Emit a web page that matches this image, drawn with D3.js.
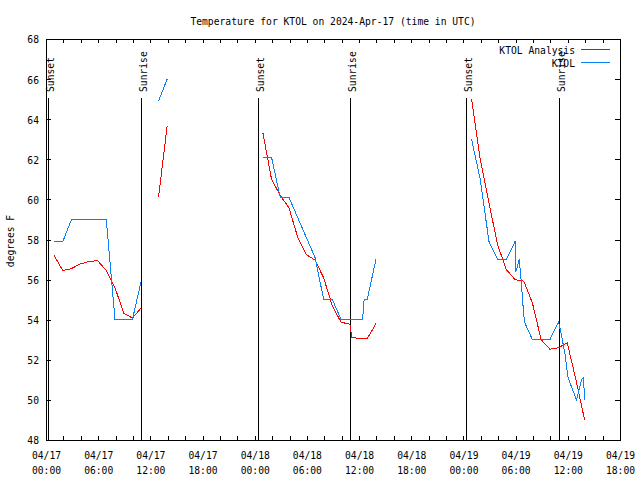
<!DOCTYPE html>
<html><head><meta charset="utf-8">
<script src="https://cdn.jsdelivr.net/npm/d3@7"></script>
<style>
html,body{margin:0;padding:0;background:#fff;}
svg{display:block;}
text{font-family:"DejaVu Sans Mono",monospace;font-size:11px;fill:#000;}
</style></head><body>
<svg id="chart" width="640" height="480"></svg>
<script>
const chartTitle = "Temperature for KTOL on 2024-Apr-17 (time in UTC)";
const yAxisLabel = "degrees F";
const seriesNames = ["KTOL Analysis", "KTOL"];

const analysisTimes = [
 "2024-04-17T00:56Z","2024-04-17T01:56Z","2024-04-17T02:56Z","2024-04-17T03:56Z","2024-04-17T04:56Z",
 "2024-04-17T05:56Z","2024-04-17T06:56Z","2024-04-17T07:56Z","2024-04-17T08:56Z","2024-04-17T09:56Z",
 "2024-04-17T10:56Z","2024-04-17T11:56Z","2024-04-17T12:56Z","2024-04-17T13:56Z","2024-04-17T18:00Z",
 "2024-04-18T00:56Z","2024-04-18T01:56Z","2024-04-18T02:56Z","2024-04-18T03:56Z","2024-04-18T04:56Z",
 "2024-04-18T05:56Z","2024-04-18T06:56Z","2024-04-18T07:56Z","2024-04-18T08:56Z","2024-04-18T09:56Z",
 "2024-04-18T10:56Z","2024-04-18T11:11Z","2024-04-18T11:56Z","2024-04-18T12:56Z","2024-04-18T13:56Z",
 "2024-04-18T18:00Z",
 "2024-04-19T00:56Z","2024-04-19T01:56Z","2024-04-19T02:56Z","2024-04-19T03:56Z","2024-04-19T04:56Z",
 "2024-04-19T05:56Z","2024-04-19T06:56Z","2024-04-19T07:56Z","2024-04-19T08:56Z","2024-04-19T09:56Z",
 "2024-04-19T10:56Z","2024-04-19T11:56Z","2024-04-19T12:56Z","2024-04-19T13:56Z"
];
const analysisValues = [
 57.2,56.45,56.55,56.78,56.9,
 56.95,56.45,55.6,54.33,54.08,
 54.58,null,60.1,63.67,null,
 63.33,61.0,60.2,59.58,58.13,
 57.25,56.97,56.08,54.67,53.87,
 53.78,53.1,53.08,53.05,53.8,
 null,
 65.0,62.0,59.83,57.72,56.5,
 56.0,55.92,54.83,53.0,52.53,
 52.6,52.85,51.0,49.0
];

const obsTimes = [
 "2024-04-17T00:56Z","2024-04-17T01:56Z","2024-04-17T02:56Z","2024-04-17T03:56Z","2024-04-17T04:56Z",
 "2024-04-17T05:56Z","2024-04-17T06:56Z","2024-04-17T07:56Z","2024-04-17T08:56Z","2024-04-17T09:56Z",
 "2024-04-17T10:56Z","2024-04-17T11:56Z","2024-04-17T12:56Z","2024-04-17T13:56Z","2024-04-17T18:00Z",
 "2024-04-18T00:56Z","2024-04-18T01:56Z","2024-04-18T02:56Z","2024-04-18T03:56Z","2024-04-18T04:56Z",
 "2024-04-18T05:56Z","2024-04-18T06:56Z","2024-04-18T07:56Z","2024-04-18T08:56Z","2024-04-18T09:56Z",
 "2024-04-18T10:56Z","2024-04-18T11:56Z","2024-04-18T12:24Z","2024-04-18T12:35Z","2024-04-18T12:56Z",
 "2024-04-18T13:56Z","2024-04-18T18:00Z",
 "2024-04-19T00:56Z","2024-04-19T01:56Z","2024-04-19T02:56Z","2024-04-19T03:56Z","2024-04-19T04:56Z",
 "2024-04-19T05:56Z","2024-04-19T06:02Z","2024-04-19T06:25Z","2024-04-19T06:41Z","2024-04-19T06:56Z",
 "2024-04-19T07:06Z","2024-04-19T07:56Z","2024-04-19T08:56Z","2024-04-19T09:56Z","2024-04-19T10:56Z",
 "2024-04-19T11:17Z","2024-04-19T11:40Z","2024-04-19T12:02Z","2024-04-19T13:00Z","2024-04-19T13:35Z",
 "2024-04-19T13:46Z","2024-04-19T13:58Z"
];
const obsValues = [
 57.9,57.9,59.0,59.0,59.0,
 59.0,59.0,54.0,54.0,54.0,
 55.9,null,64.9,66.0,null,
 62.1,62.1,60.1,60.1,59.1,
 58.1,57.1,55.0,55.0,54.0,
 54.0,54.0,54.0,55.0,55.0,
 57.0,null,
 63.0,61.0,57.9,57.0,57.0,
 57.9,56.4,57.0,55.7,54.2,
 53.8,53.0,53.0,53.0,53.9,
 53.2,52.3,51.1,50.0,51.0,
 51.1,50.0
];

const sunEventTimes = ["2024-04-17T00:13Z","2024-04-17T10:56Z","2024-04-18T00:22Z","2024-04-18T10:57Z","2024-04-19T00:18Z","2024-04-19T10:59Z"];
const sunEventLabels = ["Sunset","Sunrise","Sunset","Sunrise","Sunset","Sunrise"];

const xTickDateLabels = ["04/17","04/17","04/17","04/17","04/18","04/18","04/18","04/18","04/19","04/19","04/19","04/19"];
const xTickTimeLabels = ["00:00","06:00","12:00","18:00","00:00","06:00","12:00","18:00","00:00","06:00","12:00","18:00"];
const yTickValues = [48,50,52,54,56,58,60,62,64,66,68];

const colorAnalysis = "#ff0000";
const colorObs = "#0a80f5";
const CW = 5.82; // per-char width of the reference font

const svg = d3.select("#chart");
const L = 46, R = 620, T = 39, B = 440;
const t0 = new Date("2024-04-17T00:00Z"), t1 = new Date("2024-04-19T18:00Z");
const x = d3.scaleUtc().domain([t0, t1]).range([L, R]);
const y = d3.scaleLinear().domain([48, 68]).range([B, T]);

function fitText(sel) {
  sel.each(function(){ const s = this.textContent; d3.select(this).attr("textLength", s.length*CW).attr("lengthAdjust","spacingAndGlyphs"); });
  return sel;
}

// ticks
const majorX = d3.range(0, 12).map(i => new Date(t0.getTime() + i*6*3600e3));
const allX = d3.range(0, 34).map(i => new Date(t0.getTime() + i*2*3600e3));
const g = svg.append("g").attr("shape-rendering","crispEdges");
g.append("g").attr("transform",`translate(0,${B})`).call(d3.axisBottom(x).tickValues(allX).tickSize(-4).tickSizeOuter(0).tickFormat(""));
g.append("g").attr("transform",`translate(0,${T})`).call(d3.axisTop(x).tickValues(allX).tickSize(-4).tickSizeOuter(0).tickFormat(""));
const yl = g.append("g").attr("transform",`translate(${L},0)`).call(d3.axisLeft(y).tickValues(yTickValues).tickSize(-5).tickSizeOuter(0).tickPadding(7));
g.append("g").attr("transform",`translate(${R},0)`).call(d3.axisRight(y).tickValues(yTickValues).tickSize(-5).tickSizeOuter(0).tickFormat(""));
g.selectAll(".domain").attr("stroke","#000");
g.selectAll(".tick line").attr("stroke","#000");
yl.selectAll("text").attr("font-family",null).attr("font-size",null).attr("fill","#000").attr("dy","0.36em");
fitText(yl.selectAll("text"));
svg.selectAll("g").attr("font-family",null).attr("font-size",null);
g.append("rect").attr("x",L+0.5).attr("y",T+0.5).attr("width",R-L).attr("height",B-T).attr("fill","none").attr("stroke","#000");

// x labels
const xl = svg.append("g");
majorX.forEach((d,i) => {
  fitText(xl.append("text").attr("x", x(d)+0.5).attr("y", 458.5).attr("text-anchor","middle").text(xTickDateLabels[i]));
  fitText(xl.append("text").attr("x", x(d)+0.5).attr("y", 473.5).attr("text-anchor","middle").text(xTickTimeLabels[i]));
});

// sun lines
const sg = svg.append("g");
sunEventTimes.forEach((s,i) => {
  const px = Math.round(x(new Date(s))) + 0.5;
  sg.append("line").attr("x1",px).attr("x2",px).attr("y1",y(65.05)).attr("y2",B).attr("stroke","#000").attr("shape-rendering","crispEdges");
  fitText(sg.append("text").attr("transform",`translate(${px+5},92) rotate(-90)`).text(sunEventLabels[i]));
});

// data lines
const line = d3.line().defined(d => d.v != null).x(d => x(d.t)).y(d => y(d.v));
const aData = analysisTimes.map((t,i) => ({t:new Date(t), v:analysisValues[i]}));
const oData = obsTimes.map((t,i) => ({t:new Date(t), v:obsValues[i]}));
svg.append("path").datum(aData).attr("d",line).attr("fill","none").attr("stroke",colorAnalysis).attr("stroke-width",1).attr("shape-rendering","crispEdges");
svg.append("path").datum(oData).attr("d",line).attr("fill","none").attr("stroke",colorObs).attr("stroke-width",1).attr("shape-rendering","crispEdges");

// legend
const lg = svg.append("g");
[[seriesNames[0], colorAnalysis, 49.5],[seriesNames[1], colorObs, 62.5]].forEach(([n,c,yy]) => {
  fitText(lg.append("text").attr("x",575).attr("y",yy+4.5).attr("text-anchor","end").text(n));
  lg.append("line").attr("x1",581).attr("x2",610).attr("y1",yy).attr("y2",yy).attr("stroke",c).attr("shape-rendering","crispEdges");
});

// title & y label
fitText(svg.append("text").attr("x",333).attr("y",25).attr("text-anchor","middle").text(chartTitle));
fitText(svg.append("text").attr("transform","translate(14,241) rotate(-90)").attr("text-anchor","middle").text(yAxisLabel));
</script>
</body></html>
